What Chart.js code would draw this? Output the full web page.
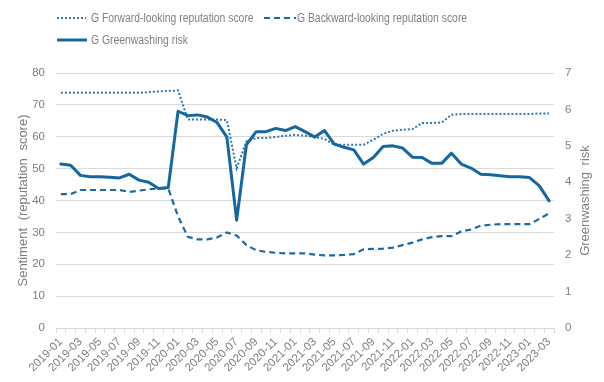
<!DOCTYPE html>
<html>
<head>
<meta charset="utf-8">
<script src="https://cdn.jsdelivr.net/npm/chart.js@4.4.1/dist/chart.umd.min.js"></script>
<style>
  html, body { margin: 0; padding: 0; background: #ffffff; }
  #wrap { position: relative; width: 604px; height: 382px; overflow: hidden; }
  #chart { position: absolute; left: 0; top: 0; }
  .lg { position: absolute; font-family: 'Liberation Sans', Arial, sans-serif; font-size: 12.5px; color: #7f7f7f; white-space: nowrap; line-height: 14px; transform: scaleX(0.83); transform-origin: 0 0; }
  .sw { position: absolute; }
</style>
</head>
<body>
<div id="wrap">
  <canvas id="chart" width="604" height="382"></canvas>
  <svg class="sw" style="left:56px;top:13px" width="32" height="10"><line x1="1" y1="5" x2="30" y2="5" stroke="#2a78b4" stroke-width="2" stroke-dasharray="2,2"/></svg>
  <div class="lg" style="left:91px;top:11px">G Forward-looking reputation score</div>
  <svg class="sw" style="left:263px;top:13px" width="34" height="10"><line x1="1" y1="5" x2="33" y2="5" stroke="#1a6aa4" stroke-width="2.2" stroke-dasharray="6,4"/></svg>
  <div class="lg" style="left:297px;top:11px">G Backward-looking reputation score</div>
  <svg class="sw" style="left:56px;top:35px" width="32" height="10"><line x1="1" y1="5" x2="31" y2="5" stroke="#16669f" stroke-width="3"/></svg>
  <div class="lg" style="left:91px;top:33px">G Greenwashing risk</div>
</div>
<script>
const labels = ['2019-01','2019-02','2019-03','2019-04','2019-05','2019-06','2019-07','2019-08','2019-09','2019-10','2019-11','2019-12',
  '2020-01','2020-02','2020-03','2020-04','2020-05','2020-06','2020-07','2020-08','2020-09','2020-10','2020-11','2020-12',
  '2021-01','2021-02','2021-03','2021-04','2021-05','2021-06','2021-07','2021-08','2021-09','2021-10','2021-11','2021-12',
  '2022-01','2022-02','2022-03','2022-04','2022-05','2022-06','2022-07','2022-08','2022-09','2022-10','2022-11','2022-12',
  '2023-01','2023-02','2023-03'];

const forwardScore = [73.8,73.8,73.8,73.8,73.8,73.8,73.8,73.8,73.8,74.0,74.2,74.4,74.5,
  65.4,65.4,65.4,65.4,65.2,50.1,58.5,59.6,59.6,59.9,60.3,60.6,
  60.3,59.9,59.3,57.5,57.5,57.5,57.5,59.1,60.9,61.9,62.2,62.4,
  64.3,64.3,64.5,66.9,67.1,67.1,67.1,67.1,67.1,67.1,67.1,67.1,67.3,67.3];

const backwardScore = [42.0,42.0,43.3,43.3,43.3,43.3,43.3,42.7,43.1,43.5,43.8,43.8,35.0,
  28.6,27.8,27.8,28.4,30.0,29.0,26.0,24.4,23.9,23.6,23.4,23.4,
  23.4,23.0,22.8,22.8,22.9,23.2,24.7,24.8,24.9,25.2,26.0,26.8,
  27.8,28.5,28.8,28.8,30.3,30.9,32.1,32.4,32.6,32.6,32.6,32.6,34.2,36.0];

const greenwashingRisk = [4.50,4.47,4.19,4.15,4.15,4.14,4.12,4.22,4.06,4.00,3.83,3.86,5.95,
  5.83,5.85,5.79,5.64,5.24,2.96,5.03,5.39,5.39,5.48,5.42,5.53,
  5.39,5.24,5.42,5.05,4.96,4.89,4.50,4.68,4.98,5.00,4.94,4.69,
  4.68,4.52,4.52,4.80,4.50,4.39,4.22,4.21,4.18,4.15,4.15,4.13,3.90,3.49];

const leftTicks = [0,10,20,30,40,50,60,70,80];
const rightTicks = [0,1,2,3,4,5,6,7];

const FONT = "'Liberation Sans', Arial, sans-serif";
const TXT = '#7f7f7f';
const GRID = '#d9d9d9';

const titlePlugin = {
  id: 'axisTitles',
  afterDraw(chart) {
    const ctx = chart.ctx;
    const ca = chart.chartArea;
    const cy = (ca.top + ca.bottom) / 2;
    const draw = (text, x, ws) => {
      ctx.save();
      ctx.fillStyle = TXT;
      ctx.font = '13px ' + FONT;
      try { ctx.wordSpacing = ws; } catch (e) {}
      ctx.textAlign = 'center';
      ctx.textBaseline = 'middle';
      ctx.translate(x, cy);
      ctx.rotate(-Math.PI / 2);
      ctx.fillText(text, 0, 0);
      ctx.restore();
    };
    draw('Sentiment (reputation score)', 23, '4px');
    draw('Greenwashing risk', 585, '3px');
  }
};

new Chart(document.getElementById('chart'), {
  type: 'line',
  data: {
    labels: labels,
    datasets: [
      { label: 'G Forward-looking reputation score', data: forwardScore, yAxisID: 'y',
        borderColor: '#2a78b4', borderWidth: 2, borderDash: [2, 2], pointRadius: 0, tension: 0, fill: false, order: 2 },
      { label: 'G Backward-looking reputation score', data: backwardScore, yAxisID: 'y',
        borderColor: '#1a6aa4', borderWidth: 2.2, borderDash: [6, 4], pointRadius: 0, tension: 0, fill: false, order: 1 },
      { label: 'G Greenwashing risk', data: greenwashingRisk, yAxisID: 'y2',
        borderColor: '#16669f', borderWidth: 3, pointRadius: 0, tension: 0, fill: false, order: 0,
        borderJoinStyle: 'round', borderCapStyle: 'round' }
    ]
  },
  options: {
    responsive: false,
    animation: false,
    layout: { padding: { top: 73, left: 0, right: 0, bottom: 0 } },
    plugins: { legend: { display: false }, tooltip: { enabled: false } },
    scales: {
      x: {
        offset: true,
        grid: { display: true, drawOnChartArea: false, drawTicks: true, tickLength: 5, color: GRID, offset: true },
        border: { display: true, color: GRID },
        ticks: {
          autoSkip: false, minRotation: 45, maxRotation: 45, padding: 2,
          color: TXT, font: { family: FONT, size: 11.5 },
          callback: function (v, i) { return i % 2 === 0 ? labels[i] : ''; }
        },
        afterFit: function (s) { s.height = 54; }
      },
      y: {
        position: 'left', min: 0, max: 80,
        afterBuildTicks: function (s) { s.ticks = leftTicks.map(v => ({ value: v })); },
        grid: { color: GRID, drawTicks: false },
        border: { display: false },
        ticks: { padding: 11, color: TXT, font: { family: FONT, size: 11.5 } },
        afterFit: function (s) { s.width = 56; }
      },
      y2: {
        position: 'right', min: 0, max: 7,
        afterBuildTicks: function (s) { s.ticks = rightTicks.map(v => ({ value: v })); },
        grid: { drawOnChartArea: false, drawTicks: false },
        border: { display: false },
        ticks: { padding: 11, color: TXT, font: { family: FONT, size: 11.5 } },
        afterFit: function (s) { s.width = 50; }
      }
    }
  },
  plugins: [titlePlugin]
});
</script>
</body>
</html>
